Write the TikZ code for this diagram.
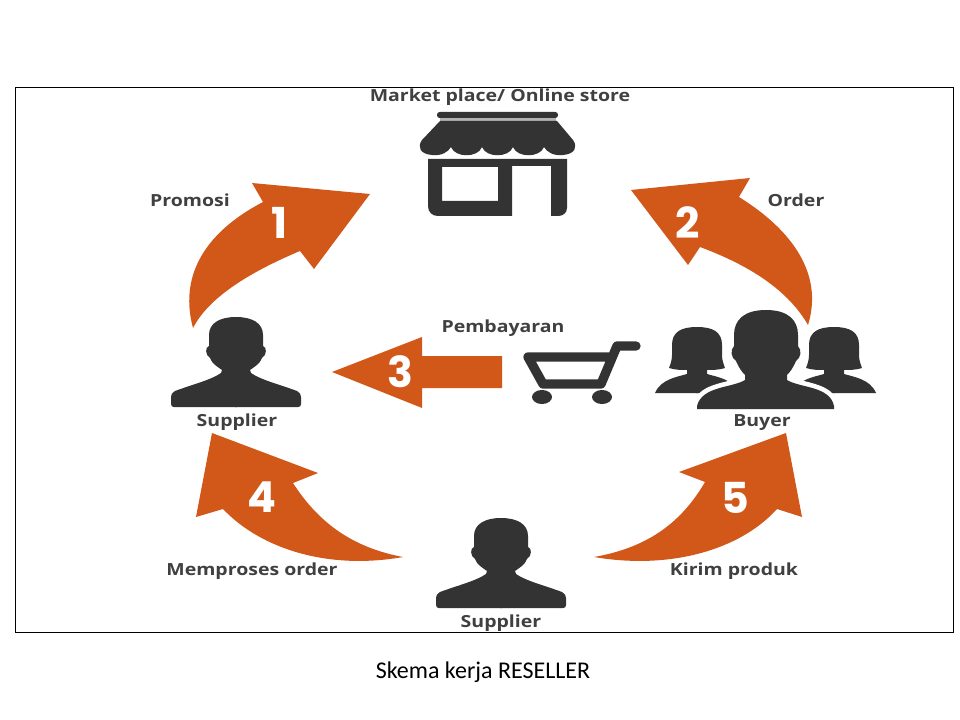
\documentclass[tikz,border=0pt]{standalone}
\usepackage{fontspec}
\setmainfont[FakeStretch=1.17]{Open Sans}
\newfontfamily\capfont{Carlito}
\newfontfamily\numfont{Poppins}
\definecolor{arrowor}{HTML}{D2581A}
\definecolor{darkicon}{HTML}{333333}
\definecolor{lblgray}{HTML}{404040}
\def\manpath{(766,310) .. controls (788,310) and (798,320) .. (798,335) -- (798,346)
  .. controls (802,350) and (801,358) .. (796,361) .. controls (793,368) and (790,372) .. (787,375)
  -- (787,380) .. controls (800,388) and (830,386) .. (834,406) -- (834,409)
  -- (697,409) -- (697,406) .. controls (702,386) and (732,388) .. (745,380) -- (745,375)
  .. controls (742,372) and (739,368) .. (736,361) .. controls (731,358) and (730,350) .. (734,346)
  -- (734,335) .. controls (734,320) and (744,310) .. (766,310) -- cycle}
\tikzset{
  lbl/.style={text=lblgray,font=\bfseries\fontsize{12.5pt}{14pt}\selectfont,inner sep=0pt},
  num/.style={text=white,font=\numfont\bfseries\fontsize{32pt}{34pt}\selectfont,inner sep=0pt},
  arrowshape/.style={fill=arrowor},
  icon/.style={fill=darkicon},
  person/.pic={
    \foreach \s in {1,-1}{
      \fill[icon,xscale=\s] (-1,0) -- (0,0) .. controls (16,0) and (27,6) .. (27,18) -- (27,29)
        .. controls (31,30) and (31,38) .. (26,41) .. controls (24,47) and (18,50) .. (14,53)
        -- (15,56) .. controls (25,63) and (45,68) .. (61,74) .. controls (64,75) and (65,78) .. (65,80)
        -- (65,87) .. controls (65,89) and (64,90) .. (62,90) -- (-1,90) -- cycle;
    }
  },
  woman/.pic={
    \foreach \s in {1,-1}{
      \fill[icon,xscale=\s] (-1,0) -- (0,0) .. controls (16,0) and (25,5) .. (25,18) -- (25,28)
        .. controls (25,34) and (27,38) .. (28,41) .. controls (22,43) and (15,43) .. (10,43)
        -- (10,47) .. controls (20,50) and (36,52) .. (42,66) -- (-1,66) -- cycle;
    }
  }
}
\begin{document}
\begin{tikzpicture}[x=0.75pt,y=-0.75pt]
\useasboundingbox (0,0) rectangle (960,720);
\fill[white] (0,0) rectangle (960,720);
\draw[black,line width=0.75pt] (15,87.5) rectangle (953,632);

% arrow 1
\fill[arrowshape] (193,328) .. controls (180,280) and (200,235) .. (263,202) -- (252,183) -- (370,194)
  -- (314,269) -- (300,251) .. controls (255,270) and (210,295) .. (193,328) -- cycle;
% arrow 2
\fill[arrowshape] (808,325) .. controls (822,280) and (800,235) .. (739,197) -- (750,178) -- (631,190)
  -- (688,265) -- (700,247) .. controls (740,262) and (785,285) .. (808,325) -- cycle;
% arrow 3
\fill[arrowshape] (332,372) -- (422,337) -- (422,356) -- (502,356) -- (502,388) -- (422,388) -- (422,408) -- cycle;
% arrow 4
\fill[arrowshape] (212,433) -- (318,473) -- (293,483) .. controls (320,525) and (355,548) .. (403,557)
  .. controls (330,570) and (262,550) .. (223,509) -- (196,517) -- cycle;
% arrow 5
\fill[arrowshape] (594,557) .. controls (645,548) and (680,525) .. (705,482) -- (679,472) -- (786,433)
  -- (802,517) -- (777,509) .. controls (740,550) and (670,570) .. (594,557) -- cycle;

\node[num] (n1) at (280,223) {1};
\node[num] (n2) at (688,223) {2};
\node[num] (n3) at (400,372) {3};
\node[num] (n4) at (262,497) {4};
\node[num] (n5) at (735,498) {5};

% store
\fill[icon,rounded corners=2pt] (437,112) rectangle (558,118);
\fill[gray!60] (440,118) rectangle (556,121);
\fill[icon] (440,121) -- (557,121) -- (573,140) .. controls (578,147) and (575,154) .. (563,155)
  .. controls (553,156) and (547,152) .. (544,147)
  .. controls (540,158) and (517,158) .. (513,147)
  .. controls (509,158) and (486,158) .. (482,147)
  .. controls (478,158) and (455,158) .. (451,147)
  .. controls (448,152) and (442,156) .. (432,155) .. controls (420,154) and (417,147) .. (422,140) -- cycle;
\fill[icon,even odd rule] (428,159) -- (567,159) -- (567,208) .. controls (567,213) and (563,216) .. (558,216)
  -- (551,216) -- (551,166) -- (512,166) -- (512,216) -- (438,216) .. controls (432,216) and (428,212) .. (428,206) -- cycle
  (442,167) rectangle (498,201);

% persons
\pic at (236,317) {person};
\pic at (501,518) {person};

% cart
\draw[darkicon,line width=7pt,line cap=round,line join=round] (636,346) -- (617,346) -- (601,384) -- (543,384) -- (528,357) -- (610,357);
\fill[icon] (542,397) ellipse (10 and 7);
\fill[icon] (602,397) ellipse (10 and 7);

% buyers
\pic at (697,327) {woman};
\pic at (834,327) {woman};
\fill[white,draw=white,line width=7pt] \manpath;
\fill[icon] \manpath;

% labels
\node[lbl] (market) at (500,97.5) {Market place/ Online store};
\node[lbl] (promosi) at (190,200) {Promosi};
\node[lbl] (order) at (796,200) {Order};
\node[lbl] (bayar) at (503,328.5) {Pembayaran};
\node[lbl] (sup1) at (237,422) {Supplier};
\node[lbl] (buyer) at (762,423) {Buyer};
\node[lbl] (proses) at (252,571) {Memproses order};
\node[lbl] (kirim) at (734,571) {Kirim produk};
\node[lbl] (sup2) at (501,623) {Supplier};
\node[inner sep=0pt,text=black,font=\capfont\fontsize{18pt}{20pt}\selectfont] (cap) at (483,672) {Skema kerja RESELLER};
\end{tikzpicture}
\end{document}
